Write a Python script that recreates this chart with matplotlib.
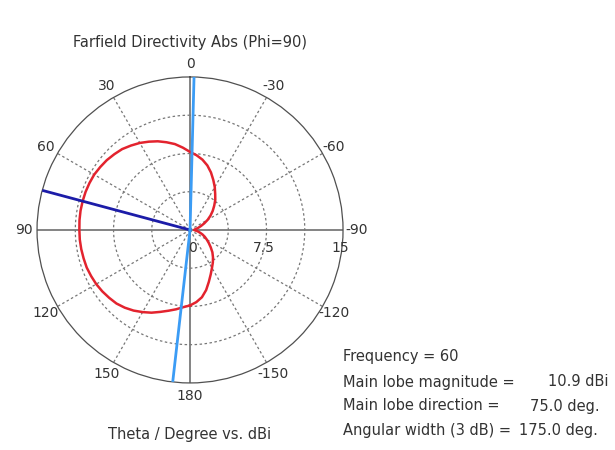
import numpy as np
import matplotlib
matplotlib.use("Agg")
import matplotlib.pyplot as plt

# Farfield directivity cut (Phi=90), theta in degrees, values in dBi
theta_deg = [-180, -175, -170, -165, -160, -155, -150, -145, -140, -135, -130, -125,
             -120, -115, -110, -105, -100, -95, -90, -85, -80, -75, -70, -65, -60,
             -55, -50, -45, -40, -35, -30, -25, -20, -15, -10, -5,
             0, 5, 10, 15, 20, 25, 30, 35, 40, 45, 50, 55, 60, 65, 70, 75, 80, 85,
             90, 95, 100, 105, 110, 115, 120, 125, 130, 135, 140, 145, 150, 155,
             160, 165, 170, 175, 180]
directivity = [7.4, 7.1, 6.7, 6.1, 5.4, 4.8, 4.3, 3.9, 3.5, 3.1, 2.65, 2.25,
               1.9, 1.6, 1.3, 1.0, 0.75, 0.5, 0.4, 0.45, 0.6, 0.85, 1.15, 1.55, 2.0,
               2.45, 2.9, 3.35, 3.85, 4.3, 4.85, 5.4, 6.0, 6.55, 7.0, 7.35,
               7.65, 8.1, 8.55, 8.9, 9.25, 9.55, 9.85, 10.1, 10.35, 10.5, 10.65, 10.75,
               10.85, 10.88, 10.9, 10.9, 10.9, 10.88, 10.85, 10.85, 10.83, 10.8, 10.78,
               10.7, 10.62, 10.5, 10.35, 10.2, 9.95, 9.65, 9.3, 8.95, 8.55, 8.2, 7.9,
               7.6, 7.4]

main_lobe_dir = 75.0
beam_edges = [-1.5, 173.5]
r_max = 15
r_rings = [3.75, 7.5, 11.25]
r_labels = [0, 7.5, 15]
angle_ticks = [0, 30, 60, 90, 120, 150, 180, 210, 240, 270, 300, 330]
angle_labels = ["0", "30", "60", "90", "120", "150", "180", "-150", "-120", "-90", "-60", "-30"]

info_lines = ["Frequency = 60", "Main lobe magnitude =", "Main lobe direction =", "Angular width (3 dB) ="]
info_values = ["", "10.9 dBi", "75.0 deg.", "175.0 deg."]
info_value_x = [0, 548, 530, 519]

txt = "#333333"
fig = plt.figure(figsize=(6.15, 4.5), dpi=100)
ax = fig.add_axes([0.0602, 0.149, 0.4976, 0.68], projection="polar")
ax.set_theta_zero_location("N")
ax.set_theta_direction(1)
ax.set_ylim(0, r_max)
ax.grid(False)
ax.set_yticks([])
ax.set_thetagrids(angle_ticks, angle_labels, fontsize=10, color=txt)
ax.tick_params(axis="x", pad=-1)
ax.spines["polar"].set_color("#505050")
ax.spines["polar"].set_linewidth(0.9)

# grid
full = np.linspace(0, 2 * np.pi, 361)
for rr in r_rings:
    ax.plot(full, np.full_like(full, rr), color="#777777", lw=0.9, ls=(0, (2, 2)), zorder=1)
for a in angle_ticks:
    t = np.deg2rad(a)
    if a % 90 == 0:
        ax.plot([t, t], [0, r_max], color="#7a7a7a", lw=1.3, zorder=1)
    else:
        ax.plot([t, t], [0, r_max], color="#777777", lw=0.9, ls=(0, (2, 2)), zorder=1)

for v in r_labels:
    ax.annotate(f"{v:g}", xy=(np.deg2rad(-90), v), xytext=(2 if v == 0 else -3, -18),
                textcoords="offset pixels", ha="center", va="center",
                fontsize=10, color=txt)

ax.plot(np.deg2rad(theta_deg), directivity, color="#e3232e", lw=1.8, zorder=3)

# beam lines
t = np.deg2rad(main_lobe_dir)
ax.plot([t, t], [0, r_max], color="#1c1ca8", lw=2, zorder=4)
for e in beam_edges:
    t = np.deg2rad(e)
    ax.plot([t, t], [0, r_max], color="#3b9cf5", lw=2, zorder=4)

fig.text(190 / 615, 1 - 42 / 450, "Farfield Directivity Abs (Phi=90)",
         ha="center", va="center", fontsize=10.5, color=txt)
fig.text(190 / 615, 1 - 435 / 450, "Theta / Degree vs. dBi",
         ha="center", va="center", fontsize=10.5, color=txt)

ys = [357, 382, 406, 430]
for line, val, vx, y in zip(info_lines, info_values, info_value_x, ys):
    fig.text(343 / 615, 1 - y / 450, line, ha="left", va="center", fontsize=10.5, color=txt)
    if val:
        fig.text(vx / 615, 1 - y / 450, val, ha="left", va="center", fontsize=10.5, color=txt)

fig.savefig("out.png", dpi=100)
